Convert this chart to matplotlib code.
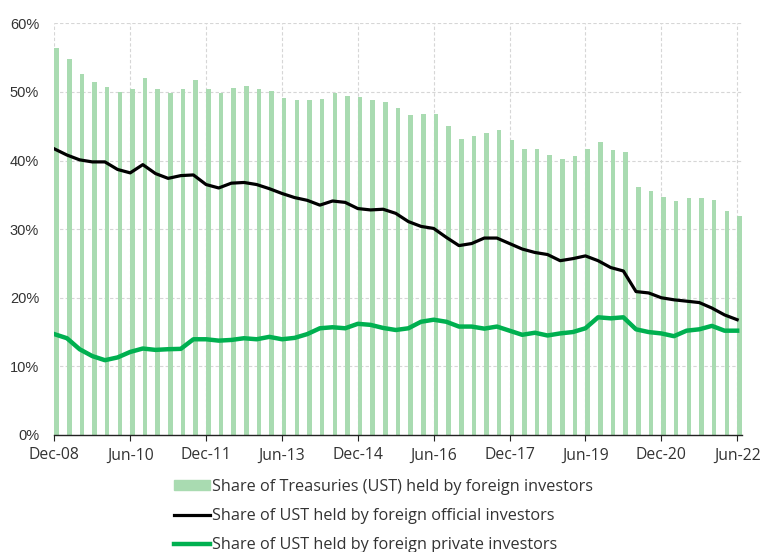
import numpy as np
import matplotlib
matplotlib.use("Agg")
import matplotlib.pyplot as plt
from matplotlib.patches import Patch
from matplotlib.lines import Line2D

# quarterly, Dec-08 .. Jun-22
quarters = ["Dec-08", "Mar-09", "Jun-09", "Sep-09", "Dec-09", "Mar-10", "Jun-10", "Sep-10",
            "Dec-10", "Mar-11", "Jun-11", "Sep-11", "Dec-11", "Mar-12", "Jun-12", "Sep-12",
            "Dec-12", "Mar-13", "Jun-13", "Sep-13", "Dec-13", "Mar-14", "Jun-14", "Sep-14",
            "Dec-14", "Mar-15", "Jun-15", "Sep-15", "Dec-15", "Mar-16", "Jun-16", "Sep-16",
            "Dec-16", "Mar-17", "Jun-17", "Sep-17", "Dec-17", "Mar-18", "Jun-18", "Sep-18",
            "Dec-18", "Mar-19", "Jun-19", "Sep-19", "Dec-19", "Mar-20", "Jun-20", "Sep-20",
            "Dec-20", "Mar-21", "Jun-21", "Sep-21", "Dec-21", "Mar-22", "Jun-22"]

foreign_total = [56.4, 54.8, 52.6, 51.4, 50.7, 50.0, 50.4, 52.0, 50.4, 49.9,
                 50.4, 51.8, 50.4, 49.9, 50.6, 50.9, 50.4, 50.2, 49.1, 48.8,
                 48.8, 49.0, 49.8, 49.4, 49.2, 48.8, 48.5, 47.6, 46.6, 46.8,
                 46.8, 45.1, 43.2, 43.6, 44.0, 44.5, 43.0, 41.7, 41.7, 40.8,
                 40.2, 40.7, 41.7, 42.7, 41.5, 41.2, 36.2, 35.6, 34.7, 34.1,
                 34.6, 34.6, 34.3, 32.7, 31.9]

official = [41.7, 40.8, 40.1, 39.8, 39.8, 38.7, 38.2, 39.4, 38.1, 37.4,
            37.8, 37.9, 36.5, 36.0, 36.7, 36.8, 36.5, 35.9, 35.2, 34.6,
            34.2, 33.5, 34.1, 33.9, 33.0, 32.8, 32.9, 32.3, 31.1, 30.4,
            30.1, 28.8, 27.6, 27.9, 28.7, 28.7, 27.9, 27.1, 26.6, 26.3,
            25.4, 25.7, 26.1, 25.4, 24.4, 23.9, 20.9, 20.7, 20.0, 19.7,
            19.5, 19.3, 18.5, 17.5, 16.8]

private = [14.7, 14.1, 12.5, 11.5, 10.9, 11.3, 12.1, 12.6, 12.4, 12.5,
           12.55, 13.95, 13.95, 13.75, 13.85, 14.1, 13.95, 14.3, 13.95, 14.15,
           14.7, 15.55, 15.7, 15.55, 16.2, 16.05, 15.6, 15.3, 15.55, 16.5,
           16.8, 16.5, 15.8, 15.8, 15.5, 15.8, 15.2, 14.6, 14.9, 14.5,
           14.8, 15.0, 15.55, 17.15, 17.0, 17.15, 15.4, 15.0, 14.8, 14.4,
           15.2, 15.4, 15.9, 15.2, 15.2]

bar_col = "#a9dbb1"
green = "#00b050"
txt = "#333333"
font_main = ["Open Sans", "DejaVu Sans"]

fig = plt.figure(figsize=(7.66, 5.52), dpi=100)
ax = fig.add_axes([0.0709, 0.212, 0.8974, 0.7458])

x = np.arange(len(quarters))
ax.bar(x, foreign_total, width=0.36, align="edge", color=bar_col, zorder=2)
ax.plot(x, official, color="black", lw=2.3, zorder=3, solid_joinstyle="round")
ax.plot(x, private, color=green, lw=3.2, zorder=3, solid_joinstyle="round")

ax.set_ylim(0, 60)
ax.set_xlim(0, len(quarters) - 1 + 0.36)
ax.set_yticks(range(0, 61, 10))
ax.set_yticklabels([f"{v}%" for v in range(0, 61, 10)], fontfamily="Liberation Sans",
                   fontsize=10.5, color=txt)
ticks = x[::6]
ax.set_xticks(ticks)
ax.set_xticklabels([quarters[i] for i in ticks], fontfamily=font_main, fontsize=11.3, color=txt)

ax.grid(True, color="#d6d6d6", ls=(0, (3, 2)), lw=0.8, zorder=0)
for s in ["top", "right", "left"]:
    ax.spines[s].set_visible(False)
ax.spines["bottom"].set_color("#222222")
ax.spines["bottom"].set_linewidth(1.0)
ax.tick_params(axis="y", length=0, pad=11)
ax.tick_params(axis="x", length=4, color="#222222", pad=5)

handles = [Patch(color=bar_col),
           Line2D([], [], color="black", lw=2.3),
           Line2D([], [], color=green, lw=3.2)]
labels = ["Share of Treasuries (UST) held by foreign investors",
          "Share of UST held by foreign official investors",
          "Share of UST held by foreign private investors"]
fig.legend(handles, labels, loc="upper left", bbox_to_anchor=(174 / 766, 1 - 479 / 552),
           frameon=False, handlelength=2.2, handleheight=0.6, handletextpad=0.15,
           labelspacing=0.8, borderpad=0, borderaxespad=0,
           prop={"family": font_main, "size": 11.7}, labelcolor=txt)

fig.savefig("out.png", dpi=100)
